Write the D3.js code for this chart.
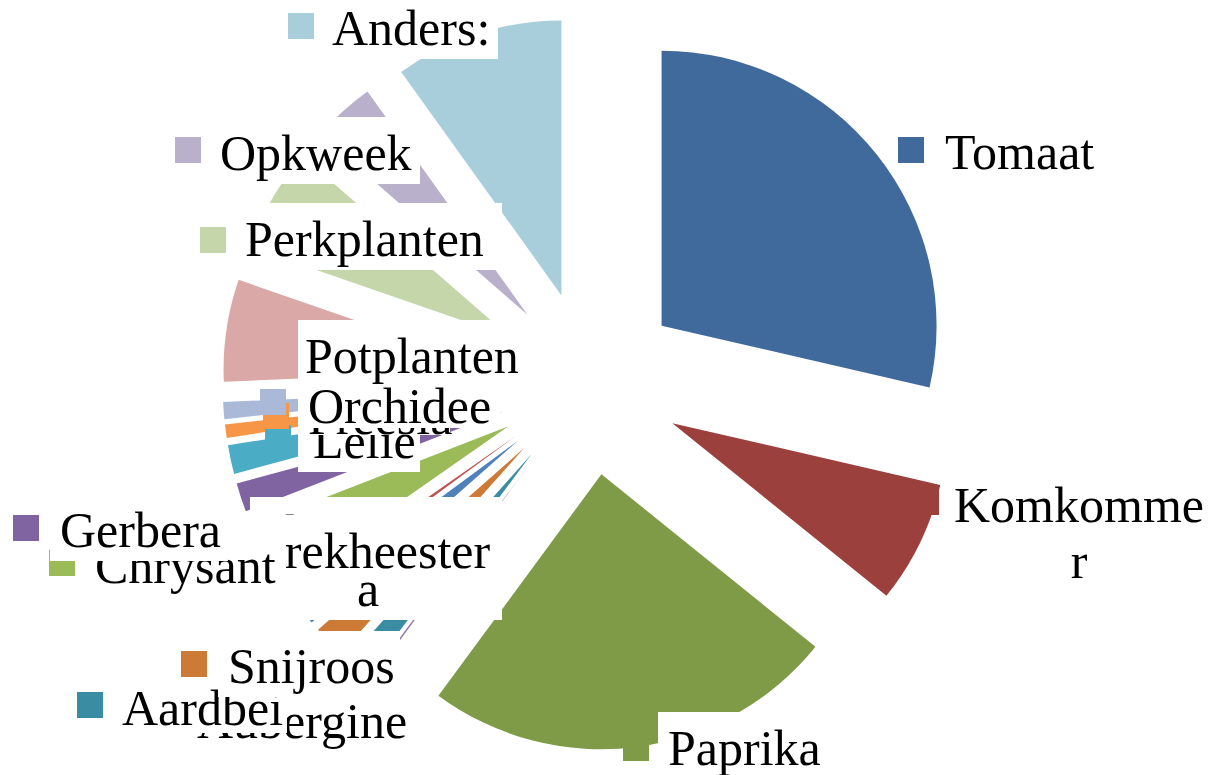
<!DOCTYPE html>
<html>
<head>
<meta charset="utf-8">
<script src="https://cdnjs.cloudflare.com/ajax/libs/d3/7.8.5/d3.min.js"></script>
<style>
body{margin:0;background:#fff;overflow:hidden;}
svg{display:block;}
text{font-family:"Liberation Serif","Times New Roman",serif;font-size:50px;fill:#000;}
</style>
</head>
<body>
<svg></svg>
<script>
// categories and share (%) per crop, clockwise from 12 o'clock
var categories=["Tomaat","Komkommer","Paprika","Aubergine","Aardbei","Snijroos","Alstroemeria","Trekheester","Chrysant","Gerbera","Lelie","Freesia","Orchidee","Potplanten","Perkplanten","Opkweek","Anders:"];
var values=[28.6,7.2,24.3,0.1,1.4,1.9,1.4,0.4,3.8,1.7,1.7,0.8,1.0,6.0,6.1,3.7,9.9];
// how the label text is wrapped in the picture
var labelLines=[["Tomaat"],["Komkomme","r"],["Paprika"],["Aubergine"],["Aardbei"],["Snijroos"],["Alstroemeri","a"],["Trekheester"],["Chrysant"],["Gerbera"],["Lelie"],["Freesia"],["Orchidee"],["Potplanten"],["Perkplanten"],["Opkweek"],["Anders:"]];
var colors=["#416a9c","#9c403e","#7f9b48","#8a7aa6","#3a8ca3","#cd7a37","#4f81bd","#c0504d","#9bbb59","#8064a2","#4bacc6","#f79646","#a9b9d7","#daa9a7","#c5d7aa","#b9b0cb","#a8cedc"];

// label placement (square, text anchor, white box) - layout only
var labelLayout=[
  {sq:[898,137],tx:945,ty:[169],anchor:"start",box:[935,118,1100,183]},
  {sq:[913,489],tx:1079,ty:[522,578],anchor:"middle",box:[940,472,1214,592]},
  {sq:[623,735],tx:668,ty:[765],anchor:"start",box:[658,712,835,775]},
  {sq:[153,706],tx:197,ty:[738],anchor:"start",box:[187,690,405,752]},
  {sq:[77,692],tx:122,ty:[725],anchor:"start",box:[112,672,287,733]},
  {sq:[181,651],tx:228,ty:[683],anchor:"start",box:[218,631,400,697]},
  {sq:[222,538],tx:368,ty:[550,606],anchor:"middle",box:[250,497,502,620]},
  {sq:[212,544],tx:256,ty:[568],anchor:"start",box:[248,515,500,582]},
  {sq:[49,550],tx:95,ty:[583],anchor:"start",box:[85,530,286,597]},
  {sq:[13,515],tx:60,ty:[547],anchor:"start",box:[50,494,228,561]},
  {sq:[265,425],tx:313,ty:[458],anchor:"start",box:[298,405,420,472]},
  {sq:[263,403],tx:308,ty:[434],anchor:"start",box:[298,383,450,435]},
  {sq:[260,389],tx:308,ty:[423],anchor:"start",box:[298,367,500,428]},
  {sq:[258,345],tx:305,ty:[373],anchor:"start",box:[298,320,535,387]},
  {sq:[200,227],tx:245,ty:[256],anchor:"start",box:[235,203,502,270]},
  {sq:[175,137],tx:220,ty:[170],anchor:"start",box:[210,117,420,184]},
  {sq:[288,13],tx:332,ty:[45],anchor:"start",box:[322,-8,498,59]}
];

var scren={width:1214,height:775};
var svg=d3.select("svg")
          .attr("width",scren.width)
          .attr("height",scren.height);

var center={x:589.6,y:383};
var radius=275;
var explode=92;

var pie=d3.pie()
          .sort(null)
          .value(function(d){return d;});
var arcs=pie(values);
var arc=d3.arc()
          .innerRadius(0)
          .outerRadius(radius);

svg.append("g")
   .selectAll("path")
   .data(arcs)
   .enter()
   .append("path")
   .attr("d",arc)
   .attr("fill",function(d,i){return colors[i];})
   .attr("transform",function(d){
     var m=(d.startAngle+d.endAngle)/2;
     return "translate("+(center.x+explode*Math.sin(m))+","+(center.y-explode*Math.cos(m))+")";
   });

// labels, drawn in series order so later ones cover earlier ones
var labels=svg.append("g")
              .selectAll("g")
              .data(categories)
              .enter()
              .append("g");

labels.append("rect")
      .attr("x",function(d,i){return labelLayout[i].box[0];})
      .attr("y",function(d,i){return labelLayout[i].box[1];})
      .attr("width",function(d,i){return labelLayout[i].box[2]-labelLayout[i].box[0];})
      .attr("height",function(d,i){return labelLayout[i].box[3]-labelLayout[i].box[1];})
      .attr("fill","#fff");

labels.append("rect")
      .attr("x",function(d,i){return labelLayout[i].sq[0];})
      .attr("y",function(d,i){return labelLayout[i].sq[1];})
      .attr("width",26)
      .attr("height",26)
      .attr("fill",function(d,i){return colors[i];});

labels.each(function(d,i){
  var lay=labelLayout[i];
  var t=d3.select(this).append("text")
          .attr("text-anchor",lay.anchor);
  labelLines[i].forEach(function(line,k){
    t.append("tspan")
     .attr("x",lay.tx)
     .attr("y",lay.ty[k])
     .text(line);
  });
});
</script>
</body>
</html>
